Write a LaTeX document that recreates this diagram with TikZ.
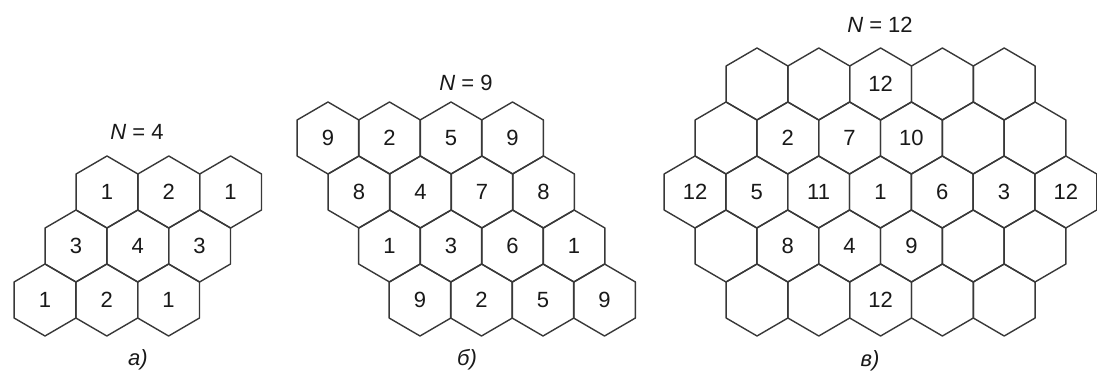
\documentclass[tikz,border=0pt]{standalone}
\usepackage{fontspec}
\setmainfont{Liberation Sans}
\newcommand\hexcell[4]{%
  \node[cell] (#1) at (#2,#3) {#4};
  \draw[hexline] (#2,#3) ++(0,36) -- ++(30.9,-18) -- ++(0,-36) -- ++(-30.9,-18) -- ++(-30.9,18) -- ++(0,36) -- cycle;
}
\begin{document}
\begin{tikzpicture}[x=1pt,y=1pt,
  hexline/.style={draw=black!78, line width=1.4pt, line join=round},
  cell/.style={font=\fontsize{22}{22}\selectfont, text=black!90, inner sep=0pt},
  title/.style={font=\fontsize{22}{22}\selectfont, text=black!90, inner sep=0pt},
]
\useasboundingbox[fill=white] (0,0) rectangle (1097,372);

% ---- a) N = 4
\foreach \t [count=\i] in {1,2,1} {\pgfmathsetmacro\xx{107+(\i-1)*61.8}\hexcell{a1\i}{\xx}{180}{\t}}
\foreach \t [count=\i] in {3,4,3} {\pgfmathsetmacro\xx{76+(\i-1)*61.8}\hexcell{a2\i}{\xx}{126}{\t}}
\foreach \t [count=\i] in {1,2,1} {\pgfmathsetmacro\xx{45+(\i-1)*61.8}\hexcell{a3\i}{\xx}{72}{\t}}
\node[title] (Na) at (137,240) {\textit{N} = 4};
\node[title] (la) at (138,12) {\textit{а)}};

% ---- б) N = 9
\foreach \t [count=\i] in {9,2,5,9} {\pgfmathsetmacro\xx{328+(\i-1)*61.5}\hexcell{b1\i}{\xx}{234}{\t}}
\foreach \t [count=\i] in {8,4,7,8} {\pgfmathsetmacro\xx{359+(\i-1)*61.5}\hexcell{b2\i}{\xx}{180}{\t}}
\foreach \t [count=\i] in {1,3,6,1} {\pgfmathsetmacro\xx{389.5+(\i-1)*61.5}\hexcell{b3\i}{\xx}{126}{\t}}
\foreach \t [count=\i] in {9,2,5,9} {\pgfmathsetmacro\xx{420+(\i-1)*61.5}\hexcell{b4\i}{\xx}{72}{\t}}
\node[title] (Nb) at (466,289) {\textit{N} = 9};
\node[title] (lb) at (467,12) {\textit{б)}};

% ---- в) N = 12
\foreach \t [count=\i] in {{},{},12,{},{}} {\pgfmathsetmacro\xx{757+(\i-1)*61.8}\hexcell{c1\i}{\xx}{288}{\t}}
\foreach \t [count=\i] in {{},2,7,10,{},{}} {\pgfmathsetmacro\xx{726+(\i-1)*61.8}\hexcell{c2\i}{\xx}{234}{\t}}
\foreach \t [count=\i] in {12,5,11,1,6,3,12} {\pgfmathsetmacro\xx{695+(\i-1)*61.8}\hexcell{c3\i}{\xx}{180}{\t}}
\foreach \t [count=\i] in {{},8,4,9,{},{}} {\pgfmathsetmacro\xx{726+(\i-1)*61.8}\hexcell{c4\i}{\xx}{126}{\t}}
\foreach \t [count=\i] in {{},{},12,{},{}} {\pgfmathsetmacro\xx{757+(\i-1)*61.8}\hexcell{c5\i}{\xx}{72}{\t}}
\node[title] (Nc) at (880,347) {\textit{N} = 12};
\node[title] (lc) at (870,11) {\textit{в)}};
\end{tikzpicture}
\end{document}
